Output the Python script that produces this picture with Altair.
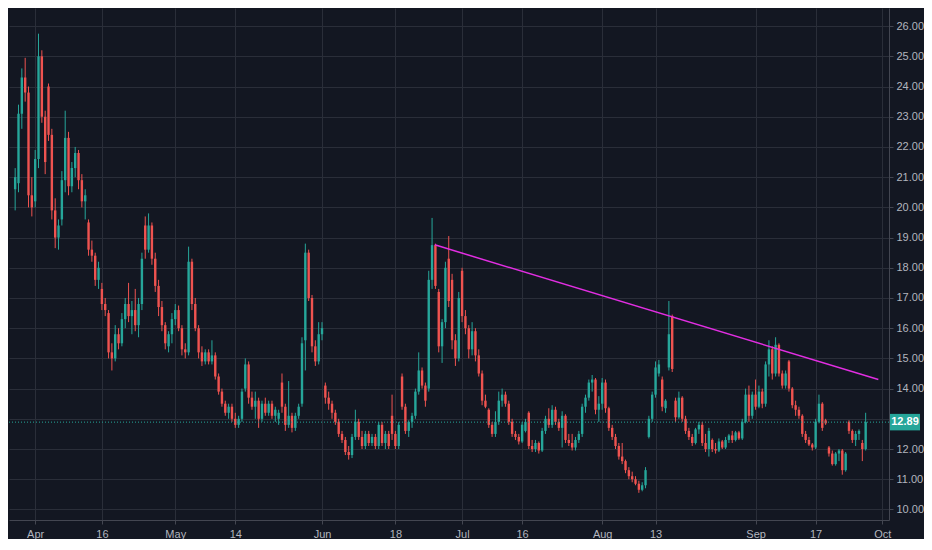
import pandas as pd
import altair as alt

# candles: two per trading day, slot 0 = Apr 2 2018
slot = list(range(-6, 250))

open_ = [
    20.6, 20.8, 23.1, 24.3, 23.8, 20.4,
    20.2, 21.6, 25.0, 23.0, 24.0, 22.4, 19.9, 19.0, 19.6, 20.9,
    22.3, 20.7, 21.3, 21.8, 20.9, 20.2, 19.5, 18.6, 18.4, 17.6,
    17.3, 16.8, 16.5, 15.2, 15.0, 15.8, 15.5, 16.3, 16.8, 16.4,
    16.6, 16.1, 16.8, 19.4, 18.6, 19.4, 18.3, 17.4, 16.7, 16.1,
    15.4, 15.8, 16.3, 16.6, 16.0, 15.3, 15.2, 18.2, 16.8, 16.0,
    15.2, 14.9, 15.2, 14.9, 15.1, 14.4, 13.9, 13.5, 13.2, 13.4,
    13.0, 12.8, 13.0, 14.0, 14.8, 13.7, 13.4, 13.6, 13.0, 13.5,
    13.2, 13.5, 13.1, 13.0, 14.2, 13.4, 12.8, 13.1, 12.7, 13.1,
    13.5, 15.6, 18.5, 17.0, 15.4, 14.9, 15.8, 14.1, 13.7, 13.5,
    13.2, 12.9, 12.5, 12.3, 11.9, 11.8, 12.4, 12.9, 12.4, 12.1,
    12.5, 12.2, 12.4, 12.1, 12.8, 12.2, 12.5, 13.1, 12.5, 12.1,
    14.4, 13.4, 12.6, 12.9, 13.1, 13.9, 14.6, 14.1, 14.0, 17.6,
    18.75, 17.2, 15.4, 16.2, 18.3, 17.6, 15.6, 15.0, 17.9, 16.4,
    16.0, 15.3, 15.9, 15.1, 14.5, 13.6, 13.3, 12.8, 12.5, 12.9,
    13.6, 13.8, 13.5, 12.9, 12.5, 12.4, 12.25, 12.6, 13.2, 12.1,
    12.0, 12.2, 11.95, 12.6, 13.0, 12.8, 13.3, 12.9, 12.7, 13.1,
    12.3, 12.2, 12.05, 12.3, 12.5, 13.4, 13.7, 14.2, 14.3, 13.3,
    13.5, 14.2, 13.35, 12.7, 12.4, 12.1, 11.75, 11.6, 11.3, 11.1,
    11.0, 10.85, 10.65, 10.8, 12.4, 13.0, 13.8, 14.5, 14.3, 13.35,
    14.7, 16.4, 13.6, 13.05, 13.7, 13.0, 12.6, 12.4, 12.2, 12.65,
    12.8, 12.2, 12.0, 12.3, 12.0, 11.95, 12.25, 12.05, 12.3, 12.45,
    12.3, 12.55, 12.35, 12.9, 13.8, 13.1, 13.8, 13.4, 13.9, 13.5,
    14.8, 15.3, 14.5, 15.45, 14.5, 14.1, 14.9, 14.0, 13.45, 13.3,
    13.1, 12.5, 12.3, 12.15, 12.05, 12.9, 13.5, 12.95, 12.05, 11.85,
    11.5, 11.85, 11.95, 11.3, 12.9, 12.6, 12.3, 12.5, 12.2, 12.0,
]
high = [
    21.3, 23.4, 24.6, 24.95, 24.0, 21.0,
    21.9, 25.75, 25.2, 23.2, 24.1, 22.6, 20.3, 19.6, 21.2, 23.2,
    22.5, 21.5, 22.0, 21.9, 21.1, 20.6, 19.6, 18.9, 18.5, 18.2,
    17.5, 17.0, 16.6, 15.5, 16.1, 16.0, 16.5, 17.0, 17.5, 16.9,
    17.3, 17.0, 18.5, 19.7, 19.8, 19.5, 18.5, 17.6, 16.9, 16.2,
    15.9, 16.5, 16.8, 16.75, 16.1, 15.5, 18.7, 18.3, 17.0, 16.1,
    15.4, 15.3, 15.3, 15.6, 15.2, 14.5, 14.0, 13.6, 13.5, 13.5,
    13.2, 13.1, 14.0, 15.0, 14.9, 13.9, 13.9, 13.7, 13.6, 13.7,
    13.6, 13.6, 13.4, 13.3, 14.5, 13.5, 14.25, 13.2, 13.2, 13.5,
    15.7, 18.8, 18.6, 17.1, 15.6, 16.2, 16.2, 14.2, 13.9, 13.6,
    13.3, 13.0, 12.6, 12.4, 12.1, 12.5, 13.3, 13.0, 12.6, 12.6,
    12.6, 12.5, 12.5, 12.9, 12.9, 12.6, 12.6, 13.8, 12.6, 12.9,
    14.5, 13.5, 12.95, 13.2, 14.0, 15.2, 14.7, 14.2, 17.9, 19.65,
    18.8, 17.3, 16.3, 18.2, 19.05, 17.8, 15.8, 17.2, 18.0, 16.6,
    16.1, 16.2, 16.0, 15.3, 14.6, 13.8, 13.35, 12.9, 13.25, 13.9,
    14.0, 13.9, 13.6, 13.0, 12.6, 12.5, 12.9, 13.0, 13.25, 12.3,
    12.3, 12.25, 12.7, 13.1, 13.35, 13.45, 13.4, 13.0, 13.25, 13.15,
    12.5, 12.5, 12.4, 12.6, 13.5, 13.8, 14.3, 14.45, 14.35, 13.75,
    14.35, 14.3, 13.4, 12.8, 12.5, 12.2, 12.2, 11.65, 11.4, 11.25,
    11.1, 10.95, 10.9, 11.4, 13.1, 13.9, 14.9, 14.95, 14.4, 13.65,
    16.9, 16.45, 13.7, 13.9, 13.75, 13.1, 12.7, 12.5, 12.7, 12.9,
    12.9, 12.5, 12.7, 12.35, 12.2, 12.35, 12.3, 12.4, 12.5, 12.6,
    12.6, 12.6, 13.0, 14.0, 14.1, 13.9, 14.3, 14.1, 14.0, 14.9,
    15.6, 15.4, 15.7, 15.5, 14.6, 14.6, 14.95, 14.05, 13.6, 13.4,
    13.15, 12.6, 12.4, 12.2, 13.0, 13.8, 13.55, 13.0, 12.1, 11.95,
    11.9, 12.0, 12.0, 11.9, 12.95, 12.65, 12.6, 12.65, 12.3, 13.2,
]
low = [
    19.9, 20.5, 22.6, 23.5, 20.0, 19.7,
    20.0, 21.3, 22.8, 21.1, 22.2, 19.6, 18.65, 18.6, 19.4, 20.5,
    20.4, 20.5, 21.0, 20.6, 20.0, 19.6, 18.4, 18.2, 17.4, 17.3,
    16.6, 16.4, 15.0, 14.6, 14.9, 15.3, 15.4, 16.0, 16.2, 15.8,
    15.9, 15.7, 16.6, 18.3, 18.5, 18.1, 17.2, 16.4, 15.9, 15.3,
    15.2, 15.5, 16.1, 15.9, 15.1, 15.0, 15.1, 16.6, 15.9, 15.0,
    14.75, 14.8, 14.8, 14.8, 14.3, 13.8, 13.4, 13.1, 13.0, 12.9,
    12.7, 12.7, 12.9, 13.9, 13.5, 13.3, 13.0, 12.7, 12.9, 13.1,
    13.1, 13.0, 12.9, 12.8, 13.2, 12.6, 12.7, 12.55, 12.6, 13.0,
    13.4, 14.6, 16.9, 15.2, 14.75, 14.8, 15.6, 13.5, 13.3, 13.0,
    12.8, 12.4, 12.2, 11.8, 11.65, 11.7, 12.3, 12.3, 12.0, 12.0,
    12.1, 12.1, 12.0, 12.0, 12.1, 12.0, 12.0, 12.3, 12.0, 12.0,
    13.3, 12.5, 12.4, 12.7, 13.0, 13.8, 14.0, 13.4, 13.9, 17.3,
    17.3, 15.2, 14.85, 16.0, 16.7, 15.3, 14.75, 14.9, 16.2, 15.8,
    15.0, 15.1, 14.9, 14.4, 13.45, 13.35, 12.7, 12.4, 12.4, 12.8,
    13.4, 13.4, 12.8, 12.4, 12.3, 12.15, 12.2, 12.55, 12.0, 11.9,
    11.9, 11.85, 11.9, 12.5, 12.7, 12.7, 12.8, 12.6, 12.05, 12.2,
    12.1, 11.95, 11.95, 12.2, 12.4, 13.2, 13.6, 13.9, 13.15, 12.9,
    13.3, 13.2, 12.6, 12.3, 12.0, 11.65, 11.5, 11.2, 11.0, 10.9,
    10.8, 10.55, 10.6, 10.7, 12.35, 12.9, 13.7, 14.4, 13.25, 13.2,
    14.6, 14.55, 12.9, 13.0, 12.9, 12.5, 12.3, 12.1, 12.15, 12.5,
    12.1, 11.9, 11.75, 11.9, 11.85, 11.9, 12.0, 12.0, 12.2, 12.2,
    12.25, 12.3, 12.3, 12.85, 12.9, 13.0, 13.3, 13.35, 13.35, 13.4,
    14.4, 14.3, 14.4, 14.4, 14.0, 14.0, 13.9, 13.35, 13.1, 13.0,
    12.4, 12.2, 12.1, 11.95, 12.0, 12.85, 12.6, 12.8, 11.75, 11.45,
    11.45, 11.6, 11.15, 11.25, 12.5, 12.2, 12.1, 12.3, 11.6, 11.95,
]
close = [
    21.0, 23.1, 24.3, 23.8, 20.4, 20.0,
    21.6, 25.0, 23.0, 21.5, 22.4, 19.9, 19.0, 19.4, 20.9, 22.3,
    20.7, 21.3, 21.8, 20.9, 20.2, 20.4, 18.6, 18.4, 17.6, 18.0,
    16.8, 16.6, 15.2, 15.0, 15.8, 15.5, 16.3, 16.8, 16.4, 16.6,
    16.1, 16.8, 18.3, 18.6, 19.4, 18.3, 17.4, 16.7, 16.1, 15.5,
    15.8, 16.3, 16.6, 16.0, 15.3, 15.2, 18.2, 16.8, 16.0, 15.2,
    14.9, 15.2, 14.9, 15.1, 14.4, 13.9, 13.5, 13.2, 13.4, 13.0,
    12.8, 13.0, 13.9, 14.8, 13.7, 13.4, 13.6, 13.0, 13.5, 13.2,
    13.5, 13.1, 13.3, 13.2, 13.4, 12.8, 13.1, 12.7, 13.1, 13.4,
    15.5, 18.5, 17.0, 15.4, 14.9, 15.8, 16.0, 13.7, 13.5, 13.2,
    12.9, 12.5, 12.3, 11.9, 11.8, 12.4, 12.9, 12.4, 12.1, 12.5,
    12.2, 12.4, 12.1, 12.8, 12.2, 12.5, 12.1, 12.5, 12.1, 12.8,
    13.4, 12.6, 12.9, 13.1, 13.9, 14.6, 14.1, 13.6, 17.6, 18.75,
    17.4, 15.4, 16.2, 18.0, 16.9, 15.6, 15.0, 17.0, 16.4, 16.0,
    15.3, 15.9, 15.1, 14.5, 13.6, 13.4, 12.8, 12.5, 12.9, 13.6,
    13.8, 13.5, 12.9, 12.5, 12.4, 12.25, 12.8, 12.9, 12.1, 12.0,
    12.2, 11.95, 12.6, 13.0, 12.8, 13.3, 12.9, 12.7, 13.1, 12.3,
    12.2, 12.05, 12.3, 12.5, 13.4, 13.7, 14.2, 14.3, 13.3, 13.5,
    14.2, 13.35, 12.7, 12.4, 12.1, 11.75, 11.6, 11.3, 11.1, 11.0,
    10.85, 10.65, 10.8, 11.3, 13.0, 13.8, 14.7, 14.8, 13.4, 13.6,
    15.8, 14.65, 13.05, 13.7, 13.0, 12.6, 12.4, 12.2, 12.65, 12.8,
    12.2, 12.0, 12.6, 12.0, 11.95, 12.25, 12.05, 12.3, 12.45, 12.3,
    12.55, 12.35, 12.9, 13.8, 13.1, 13.8, 13.4, 13.9, 13.5, 14.8,
    15.3, 14.5, 15.45, 14.5, 14.1, 14.5, 14.0, 13.45, 13.3, 13.1,
    12.5, 12.3, 12.15, 12.05, 12.9, 13.5, 12.7, 12.85, 11.85, 11.5,
    11.85, 11.95, 11.3, 11.85, 12.6, 12.3, 12.5, 12.6, 12.0, 12.89,
]

# date labels on the time axis
tick_slots = [0, 20, 42, 60, 86, 108, 128, 146, 170, 186, 216, 234, 254]
tick_labels = ["Apr", "16", "May", "14", "Jun", "18", "Jul", "16", "Aug", "13", "Sep", "17", "Oct"]
price_ticks = list(range(10, 27))

# hand-drawn trend line
trend_slot = [119.8, 252.8]
trend_price = [18.76, 14.3]

last_price = close[-1]

W, H = 880, 512
BG = "#131722"
GRID = "#2a2e39"
TXT = "#b2b5be"
UP = "#26a69a"
DOWN = "#ef5350"
FONT = "Liberation Sans"

df = pd.DataFrame({"slot": slot, "open": open_, "high": high, "low": low, "close": close})
trend = pd.DataFrame({"slot": trend_slot, "price": trend_price})
last = pd.DataFrame({"price": [last_price]})

x_expr = " : ".join(f"datum.value == {s} ? '{t}'" for s, t in zip(tick_slots, tick_labels)) + " : ''"

x_scale = alt.Scale(domain=[-6.35, 254.5], nice=False, zero=False)
y_scale = alt.Scale(domain=[9.65, 26.6], nice=False, zero=False)

x_axis = alt.Axis(values=tick_slots, labelExpr=x_expr, title=None, grid=True,
                  gridColor=GRID, domainColor="#434651", tickColor="#434651",
                  tickSize=4, labelColor=TXT, labelFont=FONT, labelFontSize=11,
                  labelPadding=4, labelFlush=False)
y_axis = alt.Axis(orient="right", values=price_ticks, title=None, grid=True,
                  labelExpr="datum.value == 13 ? '' : format(datum.value, '.2f')",
                  gridColor=GRID, domainColor="#434651", tickColor="#434651",
                  tickSize=4, labelColor=TXT, labelFont=FONT, labelFontSize=11,
                  labelPadding=3)

candle_color = alt.condition("datum.close >= datum.open", alt.value(UP), alt.value(DOWN))

wicks = alt.Chart(df).mark_rule(strokeWidth=1).encode(
    x=alt.X("slot:Q", scale=x_scale, axis=x_axis),
    y=alt.Y("low:Q", scale=y_scale, axis=y_axis),
    y2="high:Q",
    color=candle_color,
)

bodies = alt.Chart(df).mark_bar(width=2.4).encode(
    x=alt.X("slot:Q", scale=x_scale, axis=x_axis),
    y=alt.Y("open:Q", scale=y_scale, axis=y_axis),
    y2="close:Q",
    color=candle_color,
)

price_line = alt.Chart(last).mark_rule(color=UP, strokeDash=[1, 2], strokeWidth=1).encode(
    y=alt.Y("price:Q", scale=y_scale, axis=y_axis)
)

trend_line = alt.Chart(trend).mark_line(color="#e22ee2", strokeWidth=1.5).encode(
    x=alt.X("slot:Q", scale=x_scale, axis=x_axis),
    y=alt.Y("price:Q", scale=y_scale, axis=y_axis),
)

price_box = alt.Chart(last).mark_point(
    shape="M-1,-0.55H1V0.55H-1Z", size=900, filled=True, color=UP, opacity=1
).encode(
    x=alt.value(W + 16),
    y=alt.Y("price:Q", scale=y_scale, axis=y_axis),
)

price_text = alt.Chart(last).mark_text(
    color="white", font=FONT, fontSize=11, fontWeight="bold"
).encode(
    x=alt.value(W + 16),
    y=alt.Y("price:Q", scale=y_scale, axis=y_axis),
    text=alt.Text("price:Q", format=".2f"),
)

chart = alt.layer(wicks, bodies, price_line, trend_line, price_box, price_text).properties(
    width=W, height=H, background=BG,
    padding={"left": 0, "top": 0, "right": 0, "bottom": 0},
).configure_view(strokeWidth=0)

chart.save("out.html", embed_options={"renderer": "svg", "actions": False})
